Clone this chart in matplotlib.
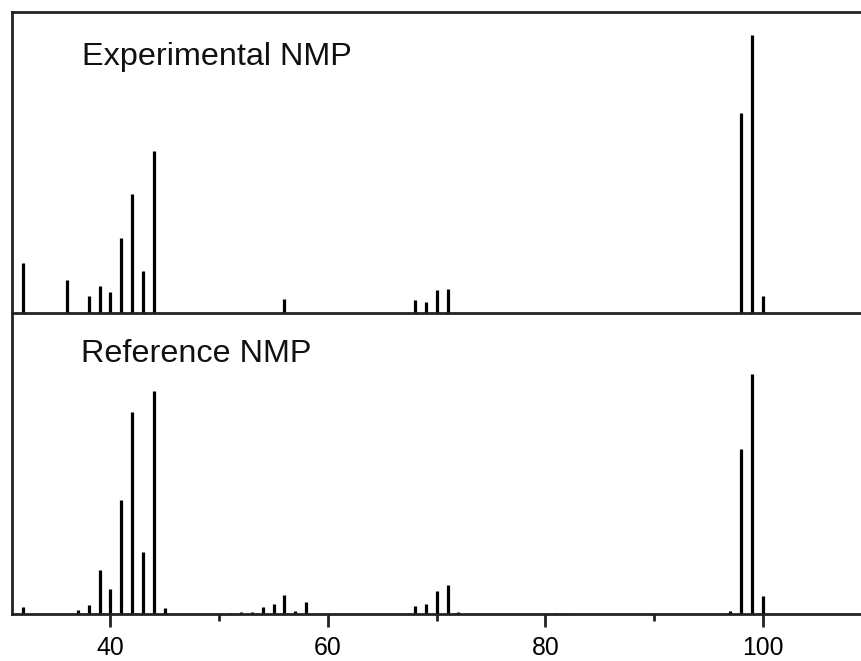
import matplotlib
matplotlib.use("Agg")
import matplotlib.pyplot as plt
from matplotlib.ticker import FixedLocator

# Data (relative intensity, % of base peak)
exp_mz = [32, 36, 38, 39, 40, 41, 42, 43, 44, 56, 68, 69, 70, 71, 98, 99, 100]
exp_int = [18.0, 11.9, 6.1, 9.7, 7.6, 27.0, 42.7, 15.0, 58.3, 5.0, 4.8, 4.0, 8.3, 8.5, 71.8, 100.0, 6.1]

ref_mz = [32, 37, 38, 39, 40, 41, 42, 43, 44, 45, 51, 52, 53, 54, 55, 56, 57, 58,
          68, 69, 70, 71, 72, 81, 82, 97, 98, 99, 100]
ref_int = [2.9, 1.7, 3.8, 18.3, 10.4, 47.3, 84.2, 25.7, 93.0, 2.3, 0.6, 1.0, 1.0, 2.9, 4.2, 8.0, 1.4, 5.0,
           3.3, 4.2, 9.6, 11.9, 0.8, 0.6, 0.4, 1.2, 68.8, 100.0, 7.3]

panel_labels = ["Experimental NMP", "Reference NMP"]
major_ticks = [40, 60, 80, 100]
minor_ticks = [50, 70, 90]

W, H = 862, 661
fig = plt.figure(figsize=(W / 100, H / 100), dpi=100)
plt.rcParams['font.family'] = ['Liberation Sans', 'DejaVu Sans']

left = 12.5 / W
xmin, xmax = 31.0, 109.1
ax_top = fig.add_axes([left, 1 - 313 / H, 1 - left, (313 - 12) / H])
ax_bot = fig.add_axes([left, 1 - 614 / H, 1 - left, (614 - 313) / H])

spine_col = '#222222'
for ax, mz, inten, ytop in [(ax_top, exp_mz, exp_int, 108.3), (ax_bot, ref_mz, ref_int, 125.4)]:
    ax.vlines(mz, 0, inten, colors='black', linewidth=2.3)
    ax.set_xlim(xmin, xmax)
    ax.set_ylim(0, ytop)
    ax.set_yticks([])
    ax.spines['right'].set_visible(False)
    for s in ['left', 'bottom', 'top']:
        ax.spines[s].set_linewidth(2.0)
        ax.spines[s].set_color(spine_col)
    ax.patch.set_alpha(0)

ax_bot.spines['top'].set_visible(False)
ax_top.set_xticks([])
ax_bot.xaxis.set_major_locator(FixedLocator(major_ticks))
ax_bot.xaxis.set_minor_locator(FixedLocator(minor_ticks))
ax_bot.set_xticklabels([str(t) for t in major_ticks])
ax_bot.tick_params(axis='x', which='major', direction='out', length=9, width=2.0,
                   color=spine_col, labelsize=17.8, pad=7)
ax_bot.tick_params(axis='x', which='minor', direction='out', length=5, width=2.0, color=spine_col)

fig.text(82 / W, 1 - 65 / H, panel_labels[0], fontsize=23.3, va='baseline', ha='left', color='#111111')
fig.text(81 / W, 1 - 361.5 / H, panel_labels[1], fontsize=23.3, va='baseline', ha='left', color='#111111')

fig.savefig("out.png", dpi=100)
